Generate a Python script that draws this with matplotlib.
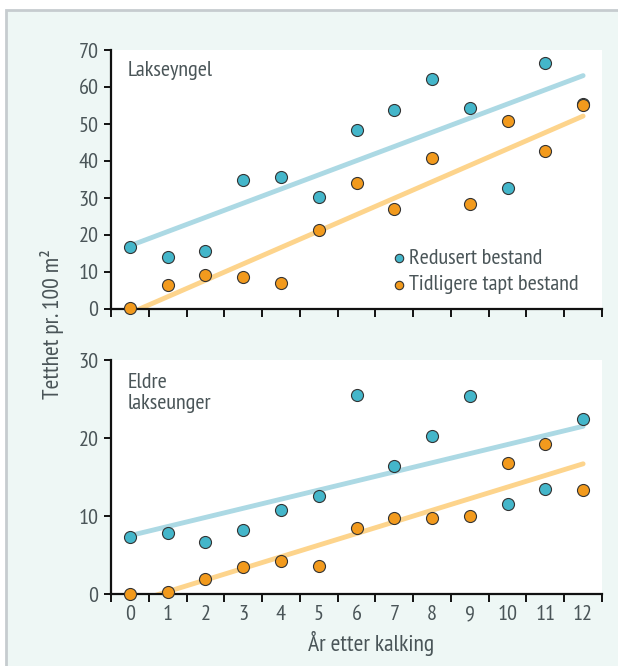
import matplotlib
matplotlib.use("Agg")
import matplotlib.pyplot as plt
import numpy as np
from matplotlib.patches import Rectangle

plt.rcParams['font.family'] = ['PT Sans Narrow', 'Fira Sans Condensed', 'Liberation Sans', 'DejaVu Sans']

years = list(range(13))
x_tick_labels = [str(y) for y in years]

# Lakseyngel
yngel_redusert = [16.8, 14.1, 15.7, 34.9, 35.7, 30.3, 48.4, 53.9, 62.2, 54.4, 32.6, 66.6, 55.5]
yngel_tapt = [0.2, 6.6, 9.2, 8.6, 7.0, 21.4, 34.0, 26.9, 40.8, 28.5, 50.8, 42.6, 55.0]

# Eldre lakseunger
eldre_redusert = [7.3, 7.8, 6.7, 8.2, 10.8, 12.6, 25.5, 16.4, 20.3, 25.4, 11.5, 13.5, 22.4]
eldre_tapt = [0.0, 0.3, 1.9, 3.4, 4.2, 3.6, 8.5, 9.8, 9.8, 10.0, 16.8, 19.2, 13.3]

series_labels = ["Redusert bestand", "Tidligere tapt bestand"]
panel_titles = ["Lakseyngel", "Eldre\nlakseunger"]

blue = "#44b6ca"
orange = "#f29a1d"
blue_line = "#acd9e4"
orange_line = "#fdd48c"
text_col = "#4a5558"
FS_TICK = 16
FS_TEXT = 16
FS_LABEL = 17

W, H = 618, 666
fig = plt.figure(figsize=(W / 100, H / 100), dpi=100)
fig.patch.set_facecolor("white")

# background panel
fig.patches.append(Rectangle((6 / W, -0.1), 1.2, 1 - 10 / H + 0.1, transform=fig.transFigure,
                             facecolor="#eef7f5", edgecolor="#c6cccf", linewidth=2, zorder=-10))

ax_top = fig.add_axes([111 / W, 1 - 309 / H, 491 / W, 259 / H])
ax_bot = fig.add_axes([111 / W, 1 - 594 / H, 491 / W, 234 / H])

def style(ax, ymax, ystep, show_xlabels):
    ax.set_facecolor("white")
    ax.set_xlim(-0.5, 12.5)
    ax.set_ylim(0, ymax)
    for s in ["top", "right"]:
        ax.spines[s].set_visible(False)
    for s in ["left", "bottom"]:
        ax.spines[s].set_linewidth(1.6)
        ax.spines[s].set_color("#111111")
    ax.set_yticks(np.arange(0, ymax + 1, ystep))
    ax.set_xticks(np.arange(-0.5, 13, 1))
    ax.set_xticklabels([])
    ax.set_xticks(years, minor=True)
    if show_xlabels:
        ax.set_xticklabels(x_tick_labels, minor=True)
    ax.tick_params(axis="x", which="major", length=6, width=1.4, color="#111111")
    ax.tick_params(axis="x", which="minor", length=0, pad=8, labelsize=FS_TICK, labelcolor=text_col)
    ax.tick_params(axis="y", length=5, width=1.4, color="#111111", labelsize=FS_TICK,
                   labelcolor=text_col, pad=4)

def draw(ax, red, tapt):
    for vals, lc in [(red, blue_line), (tapt, orange_line)]:
        k, m = np.polyfit(years, vals, 1)
        xs = np.array([0, 12])
        ax.plot(xs, k * xs + m, color=lc, lw=3.5, zorder=2, solid_capstyle="round")
    ax.scatter(years, red, s=75, color=blue, edgecolor="#333333", linewidth=0.8, zorder=5,
               clip_on=False, label=series_labels[0])
    ax.scatter(years, tapt, s=75, color=orange, edgecolor="#333333", linewidth=0.8, zorder=6,
               clip_on=False, label=series_labels[1])

style(ax_top, 70, 10, False)
style(ax_bot, 30, 10, True)
draw(ax_top, yngel_redusert, yngel_tapt)
draw(ax_bot, eldre_redusert, eldre_tapt)

ax_top.text(128 / W, 1 - 70 / H, panel_titles[0], transform=fig.transFigure, fontsize=FS_TEXT,
            color=text_col, va="center", ha="left")
ax_bot.text(128 / W, 1 - 393 / H, panel_titles[1], transform=fig.transFigure, fontsize=FS_TEXT,
            color=text_col, va="center", ha="left", linespacing=1.1)

leg = ax_top.legend(loc="upper left", bbox_to_anchor=(390 / W, 1 - 248 / H),
                    bbox_transform=fig.transFigure, frameon=False, fontsize=FS_TEXT,
                    markerscale=0.7, handletextpad=0.05, handlelength=0.8,
                    labelspacing=0.33, borderpad=0, borderaxespad=0)
for t in leg.get_texts():
    t.set_color(text_col)

fig.text(52 / W, 1 - 324 / H, "Tetthet pr. 100 m²", rotation=90, fontsize=FS_LABEL,
         color=text_col, ha="center", va="center")
fig.text(371 / W, 1 - 643 / H, "År etter kalking", fontsize=FS_LABEL, color=text_col,
         ha="center", va="center")

fig.savefig("out.png", dpi=100)
